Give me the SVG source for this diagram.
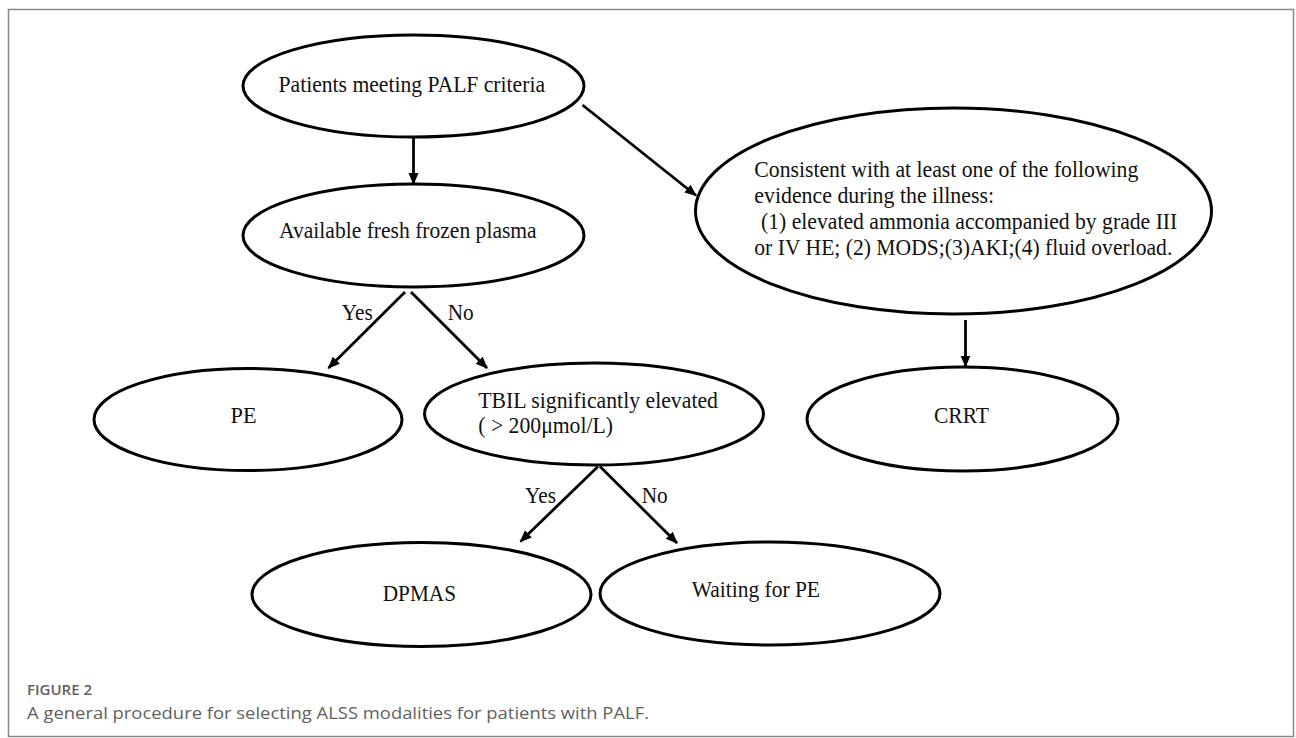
<svg xmlns="http://www.w3.org/2000/svg" width="1296" height="738" viewBox="0 0 1296 738">
<style>
.node ellipse{fill:#fff;stroke:#000;stroke-width:3}
.t{font-family:"Liberation Serif","Times New Roman",serif;font-size:24px;fill:#111}
.edge{stroke:#000;stroke-width:2.8;fill:none;marker-end:url(#ah)}
.cap{font-family:"Open Sans","Noto Sans",sans-serif;fill:#5f5f5f}
</style>
<defs>
<marker id="ah" markerUnits="userSpaceOnUse" markerWidth="14" markerHeight="12" refX="11" refY="5" orient="auto">
<path d="M0,0 L12,5 L0,10 Z" fill="#000"/>
</marker>
</defs>
<rect x="0" y="0" width="1296" height="738" fill="#fff"/>
<rect x="8.5" y="9.5" width="1285" height="727" fill="none" stroke="#888" stroke-width="1.5"/>
<g id="connectors">
<line class="edge" x1="413.5" y1="138" x2="413.5" y2="184"/>
<line class="edge" x1="582.5" y1="105" x2="696" y2="195.5"/>
<line class="edge" x1="405" y1="292" x2="328.5" y2="368"/>
<line class="edge" x1="411" y1="292" x2="487" y2="368"/>
<line class="edge" x1="598" y1="466.5" x2="520.5" y2="541.5"/>
<line class="edge" x1="600" y1="466.5" x2="677" y2="543"/>
<line class="edge" x1="965.5" y1="320" x2="965.5" y2="366.5"/>
<text class="t" x="341.7" y="320" textLength="31" lengthAdjust="spacingAndGlyphs">Yes</text>
<text class="t" x="447.7" y="320" textLength="26" lengthAdjust="spacingAndGlyphs">No</text>
<text class="t" x="525" y="503" textLength="31" lengthAdjust="spacingAndGlyphs">Yes</text>
<text class="t" x="641.7" y="503" textLength="26" lengthAdjust="spacingAndGlyphs">No</text>
</g>
<g id="n-palf" class="node">
<ellipse cx="413.5" cy="86" rx="170.5" ry="51"/>
<text class="t" x="278.5" y="92.3" textLength="266.5" lengthAdjust="spacingAndGlyphs">Patients meeting PALF criteria</text>
</g>
<g id="n-ffp" class="node">
<ellipse cx="413.5" cy="235.5" rx="170.5" ry="51.5"/>
<text class="t" x="279" y="238.3" textLength="257.7" lengthAdjust="spacingAndGlyphs">Available fresh frozen plasma</text>
</g>
<g id="n-evidence" class="node">
<ellipse cx="953.5" cy="211" rx="258" ry="103"/>
<text class="t" x="754.3" y="177.3" textLength="384" lengthAdjust="spacingAndGlyphs">Consistent with at least one of the following</text>
<text class="t" x="754.3" y="203.3" textLength="239.7" lengthAdjust="spacingAndGlyphs">evidence during the illness:</text>
<text class="t" x="761" y="229.3" textLength="416.3" lengthAdjust="spacingAndGlyphs">(1) elevated ammonia accompanied by grade III</text>
<text class="t" x="754.3" y="255" textLength="418" lengthAdjust="spacingAndGlyphs">or IV HE; (2) MODS;(3)AKI;(4) fluid overload.</text>
</g>
<g id="n-pe" class="node">
<ellipse cx="248" cy="419.5" rx="154" ry="51"/>
<text class="t" x="230.5" y="422.7" textLength="26" lengthAdjust="spacingAndGlyphs">PE</text>
</g>
<g id="n-tbil" class="node">
<ellipse cx="594" cy="414" rx="169.5" ry="51"/>
<text class="t" x="478.3" y="407.7" textLength="239.7" lengthAdjust="spacingAndGlyphs">TBIL significantly elevated</text>
<text class="t" x="478.3" y="433.3" textLength="134.7" lengthAdjust="spacingAndGlyphs">( &gt; 200μmol/L)</text>
</g>
<g id="n-crrt" class="node">
<ellipse cx="962.5" cy="419" rx="155.5" ry="52"/>
<text class="t" x="934" y="423" textLength="55" lengthAdjust="spacingAndGlyphs">CRRT</text>
</g>
<g id="n-dpmas" class="node">
<ellipse cx="421.5" cy="594.5" rx="169.5" ry="52"/>
<text class="t" x="382.7" y="601" textLength="73.3" lengthAdjust="spacingAndGlyphs">DPMAS</text>
</g>
<g id="n-wait" class="node">
<ellipse cx="770" cy="593.5" rx="170" ry="51.5"/>
<text class="t" x="691.7" y="597" textLength="128.3" lengthAdjust="spacingAndGlyphs">Waiting for PE</text>
</g>
<text class="cap" x="27" y="695" font-size="14" font-weight="600" textLength="65" lengthAdjust="spacingAndGlyphs">FIGURE 2</text>
<text class="cap" x="27" y="719" font-size="17" textLength="622" lengthAdjust="spacingAndGlyphs">A general procedure for selecting ALSS modalities for patients with PALF.</text>
</svg>
